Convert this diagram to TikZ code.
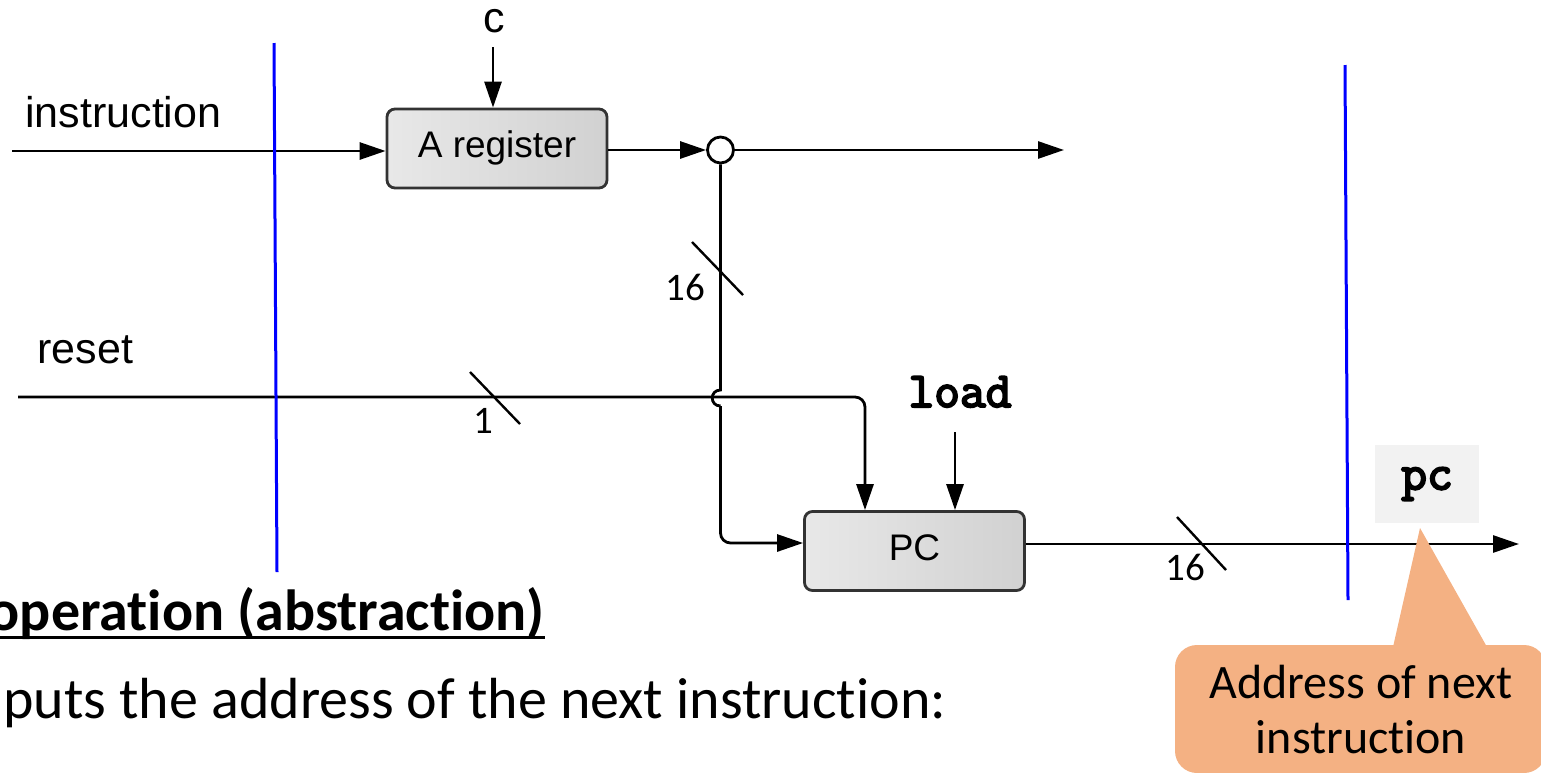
\documentclass[tikz,border=0pt]{standalone}
\usepackage{fontspec}
\setmainfont{Liberation Sans}
\newfontfamily\calibri{Carlito}[Ligatures={NoCommon}]
\newfontfamily\codefont{Latin Modern Mono}[AutoFakeBold=4]
\usetikzlibrary{arrows.meta,calc}
\definecolor{calloutorange}{HTML}{F4B183}
\definecolor{pcgray}{HTML}{F2F2F2}
\definecolor{boxedge}{HTML}{333333}
\begin{document}
\begin{tikzpicture}[x=0.5pt,y=-0.5pt,
  wire/.style={line width=1.4pt, black},
  sig/.style={wire, -{Triangle[length=13pt,width=8.5pt]}},
  slash/.style={line width=1.2pt, black},
  latch/.style={line width=1.5pt, blue},
  regbox/.style={draw=boxedge, line width=1.4pt, rounded corners=4pt,
    left color=black!9, right color=black!18,
    minimum width=110pt, minimum height=39.5pt, inner sep=0pt,
    text height=13pt, text depth=4pt,
    font=\fontsize{18.5}{20}\selectfont},
  junction/.style={circle, draw, line width=1.4pt, fill=white,
    minimum size=13pt, inner sep=0pt},
  lbl/.style={inner sep=0pt, font=\fontsize{21.5}{24}\selectfont},
  codelbl/.style={inner sep=0pt, font=\codefont\bfseries\fontsize{25}{28}\selectfont},
  buslbl/.style={inner sep=0pt, font=\calibri\fontsize{19.5}{22}\selectfont},
  calltext/.style={inner sep=0pt, font=\calibri\fontsize{24}{27}\selectfont},
]
\useasboundingbox (0,0) rectangle (1541,772);
\clip (0,0) rectangle (1541,772);

% blocks
\node[regbox] (areg) at (497,148.5) {A register};
\node[regbox] (pcreg) at (914.5,551) {PC};
\node[junction] (junc) at (720.5,150) {};

% signal labels
\node[lbl, anchor=base west] (instrlbl) at (25,127) {instruction};
\node[lbl, anchor=base west] (resetlbl) at (37,363) {reset};
\node[lbl, anchor=base] (clbl) at (494,32) {c};
\node[codelbl, anchor=base] (loadlbl) at (960,407) {load};
\node[codelbl, fill=pcgray, minimum width=52pt, minimum height=39pt] (pclbl) at (1427,484) {pc};

% wire end points
\coordinate (instrIn) at (12,151);
\coordinate (resetIn) at (18,397);
\coordinate (cTop) at (493,47);
\coordinate (loadTop) at (955,432);
\coordinate (aOut) at (1064,150);
\coordinate (pcOut) at (1519,544);
\coordinate (hopA) at (720.5,390);
\coordinate (hopB) at (720.5,406);
\coordinate (busY) at (0,543);
\coordinate (rstX) at (865,0);

% wires
\draw[sig] (instrIn) -- (instrIn -| areg.west);
\draw[sig] (cTop) -- (cTop |- areg.north);
\draw[sig] (junc.west -| areg.east) -- (junc.west);
\draw[sig] (junc.east) -- (aOut);
\draw[wire] (junc.south) -- (hopA) .. controls +(-11,0) and +(-11,0) .. (hopB);
\draw[sig, rounded corners=5pt] (hopB) -- (junc.south |- busY) -- (pcreg.west |- busY);
\draw[sig, rounded corners=5pt] (resetIn) -- (resetIn -| rstX) -- (rstX |- pcreg.north);
\draw[sig] (loadTop) -- (loadTop |- pcreg.north);
\draw[sig] (pcreg.east |- pcOut) -- (pcOut);

% bus width marks
\draw[slash] (692,242) -- (743,295);
\node[buslbl, anchor=base] (w16a) at (685,300) {16};
\draw[slash] (470,372) -- (520,424);
\node[buslbl, anchor=base] (w1) at (483,433) {1};
\draw[slash] (1177,517) -- (1226,570);
\node[buslbl, anchor=base] (w16b) at (1185,580) {16};

% clock boundaries
\draw[latch] (274,43) -- (277,572);
\draw[latch] (1345,65) -- (1348,600);

% callout
\fill[calloutorange, rounded corners=11pt] (1175,645) rectangle (1546,773);
\fill[calloutorange] (1393,647) -- (1420,528) -- (1487,647) -- cycle;
\node[calltext, anchor=base] (call1) at (1361,698) {Address of next};
\node[calltext, anchor=base] (call2) at (1361,753) {instruction};

% text
\node[anchor=base east, inner sep=0pt, font=\calibri\bfseries\fontsize{29}{34}\selectfont] (ttl) at (545,630) {operation (abstraction)};
\draw[line width=1.5pt] ($(ttl.base west)+(0,7)$) -- ($(ttl.base east)+(0,7)$);
\node[anchor=base west, inner sep=0pt, font=\calibri\fontsize{29}{34}\selectfont] (body) at (3,718) {puts the address of the next instruction:};
\end{tikzpicture}
\end{document}
